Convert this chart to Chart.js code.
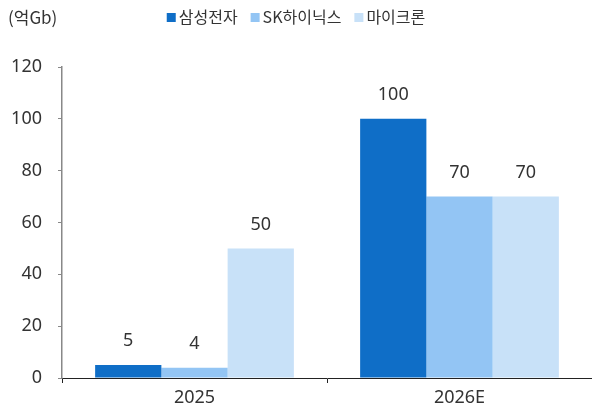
<!DOCTYPE html>
<html>
<head>
<meta charset="utf-8">
<script src="https://cdn.jsdelivr.net/npm/chart.js@4"></script>
<style>
  html, body { margin: 0; padding: 0; background: #fff; }
  #wrap { position: relative; width: 592px; height: 409px; }
  #unit { position: absolute; left: 8px; top: 4px; font: 17px "Noto Sans CJK KR", "Noto Sans", sans-serif; color: #333; }
</style>
</head>
<body>
<div id="wrap">
  <canvas id="c" width="592" height="409"></canvas>
  <div id="unit">(억Gb)</div>
</div>
<script>
const categories = ['2025', '2026E'];
const seriesNames = ['삼성전자', 'SK하이닉스', '마이크론'];
const samsung = [5, 100];
const skhynix = [4, 70];
const micron = [50, 70];
const yTicks = [0, 20, 40, 60, 80, 100, 120];
const colors = ['#0F6EC7', '#93C5F4', '#C8E1F8'];

const FONT = '"Noto Sans CJK KR", "Noto Sans", sans-serif';
const NUMFONT = '"Noto Sans", "Open Sans", sans-serif';
const TEXT = '#333333';

const valueLabels = {
  id: 'valueLabels',
  afterDatasetsDraw(chart) {
    const ctx = chart.ctx;
    ctx.save();
    ctx.font = '18px ' + NUMFONT;
    ctx.fillStyle = TEXT;
    ctx.textAlign = 'center';
    ctx.textBaseline = 'middle';
    chart.data.datasets.forEach((ds, i) => {
      chart.getDatasetMeta(i).data.forEach((bar, j) => {
        ctx.fillText(String(ds.data[j]), bar.x, bar.y - 24);
      });
    });
    ctx.restore();
  }
};

const topLegend = {
  id: 'topLegend',
  afterDraw(chart) {
    const ctx = chart.ctx;
    ctx.save();
    ctx.font = '16px ' + FONT;
    ctx.textBaseline = 'middle';
    const box = 9, gap = 3, itemGap = 13;
    const widths = chart.data.datasets.map(ds => box + gap + ctx.measureText(ds.label).width);
    const total = widths.reduce((a, b) => a + b, 0) + itemGap * (widths.length - 1);
    let x = (chart.width - total) / 2;
    const y = 17;
    chart.data.datasets.forEach((ds, i) => {
      ctx.fillStyle = ds.backgroundColor;
      ctx.fillRect(x, y - 4, box, box);
      ctx.fillStyle = TEXT;
      ctx.fillText(ds.label, x + box + gap, y);
      x += widths[i] + itemGap;
    });
    ctx.restore();
  }
};

new Chart(document.getElementById('c'), {
  type: 'bar',
  data: {
    labels: categories,
    datasets: [
      { label: seriesNames[0], data: samsung, backgroundColor: colors[0] },
      { label: seriesNames[1], data: skhynix, backgroundColor: colors[1] },
      { label: seriesNames[2], data: micron, backgroundColor: colors[2] }
    ]
  },
  options: {
    responsive: false,
    animation: false,
    layout: { padding: { top: 67, right: 0, left: 0, bottom: 0 } },
    datasets: { bar: { categoryPercentage: 0.75, barPercentage: 1.0, borderWidth: 0 } },
    plugins: { legend: { display: false }, tooltip: { enabled: false } },
    scales: {
      x: {
        offset: true,
        grid: { display: true, drawOnChartArea: false, drawTicks: true, tickLength: 5, color: '#222', offset: true },
        border: { display: true, color: '#222', width: 1 },
        ticks: { font: { size: 18, family: NUMFONT }, color: TEXT, padding: 4 },
        afterFit(s) { s.height = 31; }
      },
      y: {
        min: 0, max: 120,
        afterBuildTicks(s) { s.ticks = yTicks.map(v => ({ value: v })); },
        grid: { display: true, drawOnChartArea: false, drawTicks: true, tickLength: 4, color: '#888' },
        border: { display: true, color: '#888', width: 1.5 },
        ticks: { font: { size: 18, family: NUMFONT }, color: TEXT, padding: 16 },
        afterFit(s) { s.width = 62; }
      }
    }
  },
  plugins: [valueLabels, topLegend]
});
</script>
</body>
</html>
